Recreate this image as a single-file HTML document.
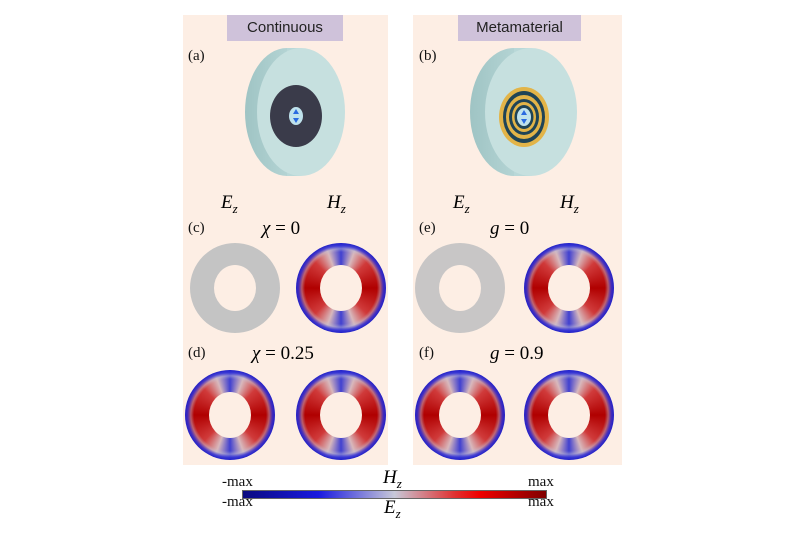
<!DOCTYPE html><html><head><meta charset="utf-8"><style>
body{margin:0;width:800px;height:533px;background:#fff;position:relative;overflow:hidden;font-family:"Liberation Serif",serif}
.a{position:absolute}
.pan{background:#fdeee4}
.ttl{background:#cfc2da;font-family:"Liberation Sans",sans-serif;font-size:15px;color:#222;text-align:center;line-height:26px}
.lb{font-size:15px;color:#111}
.m{font-style:italic;font-size:19px}
.ring{position:absolute;width:90px;height:90px;border-radius:50%;
background:radial-gradient(circle closest-side,rgba(0,0,0,0) 0 80%,rgba(190,190,215,.45) 87%,rgba(50,50,215,.85) 94%,#2020c8 100%),
conic-gradient(from 0deg,#4040d0 0deg,#d8b8bc 20deg,#d03a3a 45deg,#b00000 90deg,#d03a3a 135deg,#d8b8bc 160deg,#4040d0 180deg,#d8b8bc 200deg,#d03a3a 225deg,#b00000 270deg,#d03a3a 315deg,#d8b8bc 340deg,#4040d0 360deg)}
.gray{position:absolute;width:90px;height:90px;border-radius:50%;background:#c4c4c4}
.hole{position:absolute;left:24px;top:22px;width:42px;height:46px;border-radius:50%;background:#fdeee4}
</style></head><body>
<div class="a pan" style="left:183px;top:15px;width:205px;height:450px"></div>
<div class="a pan" style="left:413px;top:15px;width:209px;height:450px"></div>
<div class="a ttl" style="left:227px;top:15px;width:116px;height:26px">Continuous</div>
<div class="a ttl" style="left:458px;top:15px;width:123px;height:26px">Metamaterial</div>
<div class="a lb" style="left:188px;top:48px">(a)</div>
<div class="a lb" style="left:419px;top:48px">(b)</div>
<svg class="a" style="left:0;top:0" width="800" height="533">
<defs><linearGradient id="g" x1="0" y1="0" x2="1" y2="0"><stop offset="0" stop-color="#9fc4c4"/><stop offset="1" stop-color="#c8e3e3"/></linearGradient></defs>
<g>
<ellipse cx="287" cy="112" rx="42" ry="64" fill="url(#g)"/>
<rect x="287" y="48" width="14" height="128" fill="#b9d8d8"/>
<ellipse cx="301" cy="112" rx="44" ry="64" fill="#c6e0df"/>
<ellipse cx="296" cy="116" rx="26" ry="31" fill="#3a3b4a"/>
<ellipse cx="296" cy="116" rx="7" ry="9" fill="#bfe2ec"/>
<path d="M296 109 l-3 5 h6z M296 123 l-3-5 h6z" fill="#2a6ae0"/>
</g>
<g>
<ellipse cx="514" cy="112" rx="44" ry="64" fill="url(#g)"/>
<rect x="514" y="48" width="17" height="128" fill="#b9d8d8"/>
<ellipse cx="531" cy="112" rx="46" ry="64" fill="#c6e0df"/>
<ellipse cx="524" cy="117" rx="25" ry="30" fill="#e2b448"/>
<ellipse cx="524" cy="117" rx="21" ry="26" fill="#1f4456"/>
<ellipse cx="524" cy="117" rx="18" ry="22" fill="#e2b448"/>
<ellipse cx="524" cy="117" rx="15" ry="18" fill="#1f4456"/>
<ellipse cx="524" cy="117" rx="12" ry="15" fill="#e2b448"/>
<ellipse cx="524" cy="117" rx="9.5" ry="12" fill="#1f4456"/>
<ellipse cx="524" cy="117" rx="7" ry="9" fill="#bfe2ec"/>
<path d="M524 110 l-3 5 h6z M524 124 l-3-5 h6z" fill="#2a6ae0"/>
</g>
</svg>
<div class="a m" style="left:221px;top:192px">E<sub style="font-size:13px">z</sub></div>
<div class="a m" style="left:327px;top:192px">H<sub style="font-size:13px">z</sub></div>
<div class="a m" style="left:453px;top:192px">E<sub style="font-size:13px">z</sub></div>
<div class="a m" style="left:560px;top:192px">H<sub style="font-size:13px">z</sub></div>
<div class="a lb" style="left:188px;top:220px">(c)</div>
<div class="a m" style="left:262px;top:218px">χ <span style="font-style:normal">= 0</span></div>
<div class="a lb" style="left:419px;top:220px">(e)</div>
<div class="a m" style="left:490px;top:218px">g <span style="font-style:normal">= 0</span></div>
<div class="a lb" style="left:188px;top:345px">(d)</div>
<div class="a m" style="left:252px;top:343px">χ <span style="font-style:normal">= 0.25</span></div>
<div class="a lb" style="left:419px;top:345px">(f)</div>
<div class="a m" style="left:490px;top:343px">g <span style="font-style:normal">= 0.9</span></div>
<div class="gray" style="left:190px;top:243px"><div class="hole"></div></div>
<div class="ring" style="left:296px;top:243px"><div class="hole"></div></div>
<div class="gray" style="left:415px;top:243px;background:#c8c6c6"><div class="hole"></div></div>
<div class="ring" style="left:524px;top:243px"><div class="hole"></div></div>
<div class="ring" style="left:185px;top:370px"><div class="hole"></div></div>
<div class="ring" style="left:296px;top:370px"><div class="hole"></div></div>
<div class="ring" style="left:415px;top:370px"><div class="hole"></div></div>
<div class="ring" style="left:524px;top:370px"><div class="hole"></div></div>
<div class="a" style="left:242px;top:490px;width:305px;height:9px;border:1px solid #666;box-sizing:border-box;background:linear-gradient(90deg,#0a0a80 0%,#1a1ae0 25%,#c8c8d8 50%,#e03030 70%,#f00000 78%,#800000 100%)"></div>
<div class="a lb" style="left:222px;top:474px">-max</div>
<div class="a lb" style="left:222px;top:494px">-max</div>
<div class="a lb" style="left:528px;top:474px">max</div>
<div class="a lb" style="left:528px;top:494px">max</div>
<div class="a m" style="left:383px;top:467px">H<sub style="font-size:13px">z</sub></div>
<div class="a m" style="left:384px;top:497px">E<sub style="font-size:13px">z</sub></div>
</body></html>
